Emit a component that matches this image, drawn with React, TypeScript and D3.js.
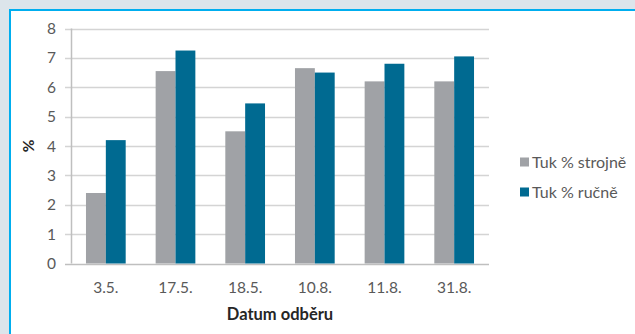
import React from "react";
import * as d3 from "d3";

const categories = ["3.5.", "17.5.", "18.5.", "10.8.", "11.8.", "31.8."];
const seriesNames = ["Tuk % strojně", "Tuk % ručně"];
const strojne = [2.4, 6.55, 4.5, 6.65, 6.2, 6.2];
const rucne = [4.2, 7.25, 5.45, 6.5, 6.8, 7.05];
const yTicks = [0, 1, 2, 3, 4, 5, 6, 7, 8];
const colors = ["#a0a2a6", "#006a91"];

const W = 635;
const H = 334;
const plot = { left: 71, right: 489, top: 28.5, bottom: 263.5 };
const font = "Lato, 'Open Sans', sans-serif";

export default function App() {
  const x = d3
    .scaleBand<string>()
    .domain(categories)
    .range([plot.left, plot.right])
    .paddingInner(0.43)
    .paddingOuter(0.215);
  const inner = d3
    .scaleBand<string>()
    .domain(seriesNames)
    .range([0, x.bandwidth()]);
  const y = d3.scaleLinear().domain([0, 8]).range([plot.bottom, plot.top]);
  const series = [strojne, rucne];

  return (
    <svg
      width={W}
      height={H}
      style={{ position: "fixed", left: 0, top: 0 }}
      fontFamily={font}
    >
      <rect x={0} y={0} width={W} height={H} fill="#dce5eb" />
      <rect x={10} y={10} width={W + 10} height={H + 10} fill="#ffffff" stroke="#00aeef" strokeWidth={2} />

      {/* grid lines and left ticks */}
      {yTicks.map((t) => (
        <g key={t}>
          <line
            x1={plot.left - 6}
            x2={plot.right}
            y1={Math.round(y(t)) + 0.5}
            y2={Math.round(y(t)) + 0.5}
            stroke={t === 0 ? "#bfbfbf" : "#d4d4d4"}
            strokeWidth={1.5}
          />
          <text
            x={56}
            y={y(t)}
            dy="0.36em"
            textAnchor="end"
            fontSize={15.5}
            fill="#595959"
          >
            {t}
          </text>
        </g>
      ))}
      <line x1={plot.left + 0.5} x2={plot.left + 0.5} y1={plot.top} y2={plot.bottom} stroke="#bfbfbf" strokeWidth={1.5} />

      {/* bars */}
      {categories.map((c, i) => (
        <g key={c} transform={`translate(${x(c)},0)`}>
          {series.map((vals, s) => (
            <rect
              key={s}
              x={inner(seriesNames[s])}
              y={y(vals[i])}
              width={inner.bandwidth()}
              height={y(0) - y(vals[i])}
              fill={colors[s]}
            />
          ))}
          <text
            x={x.bandwidth() / 2}
            y={292.5}
            textAnchor="middle"
            fontSize={15.5}
            fill="#595959"
          >
            {c}
          </text>
        </g>
      ))}

      {/* axis titles */}
      <text
        x={(plot.left + plot.right) / 2}
        y={319.5}
        textAnchor="middle"
        fontSize={16.5}
        fontWeight="bold"
        fill="#262626"
      >
        Datum odběru
      </text>
      <text
        transform={`translate(${34},${146}) rotate(-90)`}
        textAnchor="middle"
        fontSize={15.5}
        fontWeight="bold"
        fill="#262626"
      >
        %
      </text>

      {/* legend */}
      {seriesNames.map((name, s) => (
        <g key={name} transform={`translate(520,${162 + s * 30})`}>
          <rect x={0} y={-4.5} width={9} height={9} fill={colors[s]} />
          <text x={12} y={0} dy="0.36em" fontSize={16} fill="#595959">
            {name}
          </text>
        </g>
      ))}
    </svg>
  );
}
